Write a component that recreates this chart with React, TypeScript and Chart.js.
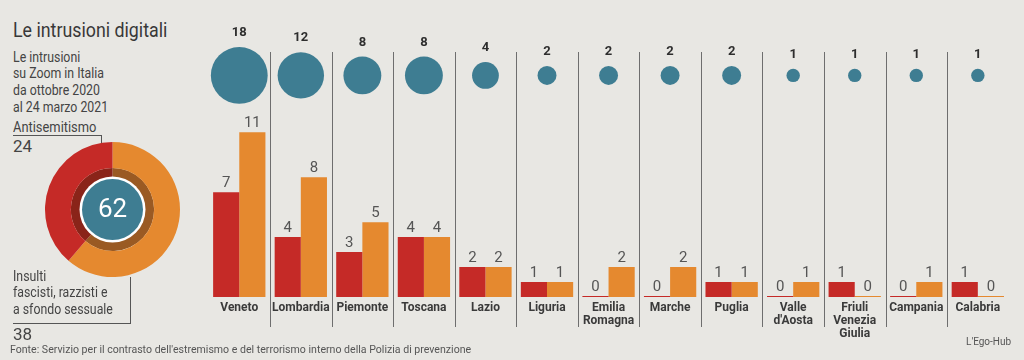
import React, { useEffect, useRef } from 'react';
import { Chart, registerables } from 'chart.js';

Chart.register(...registerables);

// ---- data ----
const regions: (string | string[])[] = [
  'Veneto', 'Lombardia', 'Piemonte', 'Toscana', 'Lazio', 'Liguria',
  ['Emilia', 'Romagna'], 'Marche', 'Puglia', ['Valle', "d'Aosta"],
  ['Friuli', 'Venezia', 'Giulia'], 'Campania', 'Calabria',
];
const antisemitismo = [7, 4, 3, 4, 2, 1, 0, 0, 1, 0, 1, 0, 1];
const insulti = [11, 8, 5, 4, 2, 1, 2, 2, 1, 1, 0, 1, 0];
const totali = [18, 12, 8, 8, 4, 2, 2, 2, 2, 1, 1, 1, 1];

const donutLabels = ['Insulti fascisti, razzisti e a sfondo sessuale', 'Antisemitismo'];
const donutValues = [38, 24];

// ---- style ----
const RED = '#c52a27';
const ORANGE = '#e5892f';
const DARK_RED = '#8a2419';
const DARK_ORANGE = '#9a5a23';
const BLUE = '#3e7d92';
const BG = '#e8e7e3';
const FONT = 'Roboto, "Noto Sans", sans-serif';

const separatorsPlugin = {
  id: 'separators',
  beforeDatasetsDraw(chart: any) {
    const xs = chart.scales.x;
    const { ctx, chartArea } = chart;
    const n = chart.data.labels.length;
    ctx.save();
    ctx.strokeStyle = '#6e6e6e';
    ctx.lineWidth = 1;
    for (let i = 1; i < n; i++) {
      const x = Math.round((xs.getPixelForValue(i - 1) + xs.getPixelForValue(i)) / 2) + 0.5;
      ctx.beginPath();
      ctx.moveTo(x, chartArea.top + 32);
      ctx.lineTo(x, chartArea.bottom + 30);
      ctx.stroke();
    }
    ctx.restore();
  },
};

const valueLabelsPlugin = {
  id: 'valueLabels',
  afterDatasetsDraw(chart: any) {
    const { ctx } = chart;
    ctx.save();
    ctx.textAlign = 'center';
    ctx.textBaseline = 'middle';
    chart.data.datasets.forEach((ds: any, di: number) => {
      const meta = chart.getDatasetMeta(di);
      meta.data.forEach((el: any, i: number) => {
        if (ds.type === 'bubble') {
          const v = totali[i];
          ctx.font = `bold 13px ${FONT}`;
          ctx.fillStyle = '#2e2e2e';
          ctx.fillText(String(v), el.x, el.y - el.options.radius - 14);
        } else {
          const v = ds.data[i];
          ctx.font = `15px ${FONT}`;
          ctx.fillStyle = '#555555';
          const top = Math.min(el.y, el.base);
          ctx.fillText(String(v), el.x, top - 9);
        }
      });
    });
    ctx.restore();
  },
};

const centerPlugin = {
  id: 'center',
  afterDraw(chart: any) {
    const { ctx } = chart;
    const arc = chart.getDatasetMeta(0).data[0];
    const cx = arc.x;
    const cy = arc.y;
    const total = donutValues.reduce((a, b) => a + b, 0);
    ctx.save();
    ctx.beginPath();
    ctx.arc(cx, cy, 33, 0, Math.PI * 2);
    ctx.fillStyle = '#ffffff';
    ctx.fill();
    ctx.beginPath();
    ctx.arc(cx, cy, 30.5, 0, Math.PI * 2);
    ctx.fillStyle = BLUE;
    ctx.fill();
    ctx.fillStyle = '#ffffff';
    ctx.font = `26px ${FONT}`;
    ctx.textAlign = 'center';
    ctx.textBaseline = 'middle';
    ctx.fillText(String(total), cx, cy + 1);
    ctx.restore();
  },
};

function MainChart() {
  const ref = useRef<HTMLCanvasElement>(null);
  useEffect(() => {
    if (!ref.current) return;
    const chart = new Chart(ref.current, {
      type: 'bar',
      data: {
        labels: regions as any,
        datasets: [
          {
            type: 'bar',
            label: 'Antisemitismo',
            data: antisemitismo,
            backgroundColor: RED,
            yAxisID: 'y',
            categoryPercentage: 0.85,
            barPercentage: 1,
            minBarLength: 1,
            borderWidth: 0,
          },
          {
            type: 'bar',
            label: 'Insulti fascisti, razzisti e a sfondo sessuale',
            data: insulti,
            backgroundColor: ORANGE,
            yAxisID: 'y',
            categoryPercentage: 0.85,
            barPercentage: 1,
            minBarLength: 1,
            borderWidth: 0,
          },
          {
            type: 'bubble',
            label: 'Totale',
            data: totali.map((v, i) => ({ x: i, y: 0, r: 6.7 * Math.sqrt(v) })),
            backgroundColor: BLUE,
            borderWidth: 0,
            yAxisID: 'y2',
            clip: false,
          } as any,
        ],
      },
      options: {
        animation: false,
        responsive: false,
        events: [],
        layout: { autoPadding: false, padding: { left: 8.5, right: 15.4, top: 20, bottom: 0 } },
        plugins: { legend: { display: false }, tooltip: { enabled: false } },
        scales: {
          x: {
            type: 'category',
            offset: true,
            grid: { display: false, drawTicks: false },
            border: { display: false },
            ticks: {
              font: { family: FONT, size: 12, weight: 'bold', lineHeight: 1.05 },
              color: '#3a3a3a',
              padding: 5,
              maxRotation: 0,
              autoSkip: false,
            },
            afterFit: (s: any) => { s.height = 63; },
          },
          y: { type: 'linear', display: false, min: 0, max: 18.5 },
          y2: { type: 'linear', display: false, min: -4, max: 1 },
        },
      } as any,
      plugins: [separatorsPlugin, valueLabelsPlugin],
    });
    return () => chart.destroy();
  }, []);
  return (
    <canvas
      ref={ref}
      width={824}
      height={360}
      style={{ position: 'absolute', left: 200, top: 0, width: 824, height: 360 }}
    />
  );
}

function DonutChart() {
  const ref = useRef<HTMLCanvasElement>(null);
  useEffect(() => {
    if (!ref.current) return;
    const chart = new Chart(ref.current, {
      type: 'doughnut',
      data: {
        labels: donutLabels,
        datasets: [
          { data: donutValues, backgroundColor: [ORANGE, RED], borderWidth: 0, weight: 23.5 },
          { data: donutValues, backgroundColor: [DARK_ORANGE, DARK_RED], borderWidth: 0, weight: 11 },
        ],
      },
      options: {
        animation: false,
        responsive: false,
        events: [],
        radius: 67.5,
        cutout: 33,
        layout: { padding: 0, autoPadding: false },
        plugins: { legend: { display: false }, tooltip: { enabled: false } },
      } as any,
      plugins: [centerPlugin],
    });
    return () => chart.destroy();
  }, []);
  return (
    <canvas
      ref={ref}
      width={151}
      height={151}
      style={{ position: 'absolute', left: 37, top: 134, width: 151, height: 151 }}
    />
  );
}

const txt = (extra: React.CSSProperties): React.CSSProperties => ({
  position: 'absolute',
  whiteSpace: 'nowrap',
  transformOrigin: 'left center',
  margin: 0,
  ...extra,
});

export default function App() {
  return (
    <div
      style={{
        position: 'absolute',
        left: 0,
        top: 0,
        width: 1024,
        height: 360,
        background: BG,
        overflow: 'hidden',
        fontFamily: FONT,
        color: '#3c3c3c',
      }}
    >
      <div style={txt({ left: 13, top: 18, fontSize: 20, lineHeight: '24px', color: '#383838', transform: 'scaleX(0.89)', transformOrigin: 'left top' })}>
        Le intrusioni digitali
      </div>
      <div style={txt({ left: 13, top: 48.5, fontSize: 14, lineHeight: '16.7px', color: '#444', transform: 'scaleX(0.88)', transformOrigin: 'left top' })}>
        Le intrusioni<br />su Zoom in Italia<br />da ottobre 2020<br />al 24 marzo 2021
      </div>
      <div style={txt({ left: 13, top: 119, fontSize: 14, lineHeight: '16px', color: '#444', transform: 'scaleX(0.92)', transformOrigin: 'left top' })}>
        Antisemitismo
      </div>
      <div style={{ position: 'absolute', left: 13, top: 135, width: 88, height: 1, background: '#555' }} />
      <div style={{ position: 'absolute', left: 101, top: 135, width: 1, height: 14, background: '#555' }} />
      <div style={txt({ left: 13, top: 137, fontSize: 17, lineHeight: '18px', color: '#444' })}>24</div>

      <DonutChart />

      <div style={{ position: 'absolute', left: 130, top: 277, width: 1, height: 46, background: '#555' }} />
      <div style={{ position: 'absolute', left: 13, top: 323, width: 118, height: 1, background: '#555' }} />
      <div style={txt({ left: 13, top: 267.6, fontSize: 14, lineHeight: '16.7px', color: '#444', transform: 'scaleX(0.88)', transformOrigin: 'left top' })}>
        Insulti<br />fascisti, razzisti e<br />a sfondo sessuale
      </div>
      <div style={txt({ left: 13, top: 325, fontSize: 17, lineHeight: '18px', color: '#444' })}>38</div>

      <MainChart />

      <div style={txt({ left: 10, top: 342, fontSize: 11.5, lineHeight: '14px', color: '#555', transform: 'scaleX(0.92)', transformOrigin: 'left top' })}>
        Fonte: Servizio per il contrasto dell'estremismo e del terrorismo interno della Polizia di prevenzione
      </div>
      <div style={txt({ left: 966, top: 336, fontSize: 10, lineHeight: '12px', color: '#555' })}>L'Ego-Hub</div>
    </div>
  );
}
